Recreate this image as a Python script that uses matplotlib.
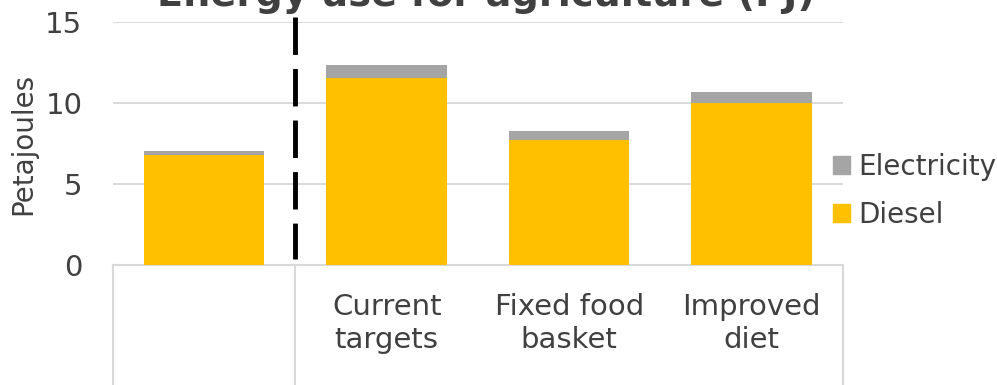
import numpy as np
import matplotlib.pyplot as plt
from matplotlib.patches import Patch
import matplotlib.transforms as mtransforms

# Energy use for agriculture, split by fuel
categories = ["", "Current\ntargets", "Fixed food\nbasket", "Improved\ndiet"]
diesel = [6.8, 11.55, 7.7, 10.0]
electricity = [0.22, 0.78, 0.6, 0.7]

diesel_col = "#FFC000"
elec_col = "#A5A5A5"
grid_col = "#D9D9D9"
text_col = "#404040"

plt.rcParams["font.family"] = "DejaVu Sans"

fig = plt.figure(figsize=(9.97, 3.85), dpi=100)
ax = fig.add_axes([0.1133, 0.3117, 0.7322, 0.6312])

x = np.arange(len(categories))
ax.bar(x, diesel, width=0.66, color=diesel_col, zorder=3)
ax.bar(x, electricity, width=0.66, bottom=diesel, color=elec_col, zorder=3)

ax.set_xlim(-0.5, 3.5)
ax.set_ylim(0, 15)
ax.set_yticks([0, 5, 10, 15])
ax.yaxis.grid(True, color=grid_col, linewidth=1.4, zorder=0)
ax.tick_params(axis="both", length=0, labelsize=21, labelcolor=text_col)
ax.tick_params(axis="y", pad=22)
ax.tick_params(axis="x", pad=20)
ax.set_xticks(x)
ax.set_xticklabels(categories, linespacing=1.25)
for s in ax.spines.values():
    s.set_visible(False)

ax.set_ylabel("Petajoules", fontsize=20, color=text_col)
ax.yaxis.set_label_coords(-0.104, 0.5)

# category box under the plot area
trans = mtransforms.blended_transform_factory(ax.transData, ax.transAxes)
ax.plot([-0.5, 3.5], [0, 0], transform=trans, color=grid_col, lw=1.5,
        clip_on=False, zorder=2)
for xv in [-0.5, 0.5, 3.5]:
    ax.plot([xv, xv], [0, -0.7], transform=trans, color=grid_col, lw=1.5,
            clip_on=False, zorder=2)

# dashed divider between base year and scenarios (drawn top-down)
ax.plot([0.5, 0.5], [15.3, 0.37], color="black", lw=3.5,
        linestyle=(0, (7.7, 2.9)), clip_on=False, zorder=4)

handles = [Patch(color=elec_col, label="Electricity"),
           Patch(color=diesel_col, label="Diesel")]
fig.legend(handles=handles, loc="center left",
           bbox_to_anchor=(0.8355, 0.504), frameon=False, fontsize=20,
           handlelength=0.62, handleheight=0.62, handletextpad=0.3,
           labelspacing=0.7, borderpad=0, borderaxespad=0,
           labelcolor=text_col)

fig.text(0.4875, 0.9844, "Energy use for agriculture (PJ)", ha="center",
         va="baseline", fontsize=27.5, fontweight="bold", color=text_col)

fig.savefig("out.png", dpi=100)
